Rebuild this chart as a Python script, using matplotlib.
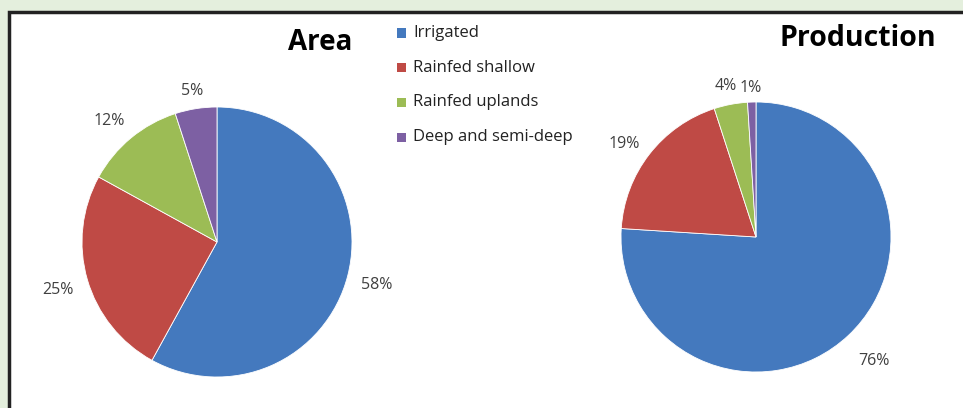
import numpy as np
import matplotlib
matplotlib.use("Agg")
import matplotlib.pyplot as plt
from matplotlib.patches import Rectangle

plt.rcParams['font.family'] = ['Open Sans', 'DejaVu Sans']

categories = ["Irrigated", "Rainfed shallow", "Rainfed uplands", "Deep and semi-deep"]
area_pct = [58, 25, 12, 5]
prod_pct = [76, 19, 4, 1]
colors = ["#4479BE", "#BF4A45", "#9CBC55", "#7D60A3"]

W, H = 963, 408
R_PX = 135
fig = plt.figure(figsize=(W / 100, H / 100), dpi=100)
fig.patch.set_facecolor("#e4efdd")
renderer = fig.canvas.get_renderer()

# white panel with dark frame (runs off right and bottom)
fig.patches.append(Rectangle((9 / W, -0.05), 1.1, (H - 12) / H + 0.05,
                             transform=fig.transFigure, facecolor="white",
                             edgecolor="#222222", linewidth=2.5, zorder=-5))


def px_axes(x0, y0, size):
    return fig.add_axes([x0 / W, (H - y0 - size) / H, size / W, size / H])


def draw_pie(ax, values, gaps):
    ax.pie(values, colors=colors, startangle=90, counterclock=False,
           wedgeprops=dict(edgecolor="white", linewidth=0.6))
    ax.set_xlim(-1, 1)
    ax.set_ylim(-1, 1)
    ax.set_aspect("equal")
    ax.axis("off")
    start = 90.0
    total = float(sum(values))
    for v, g in zip(values, gaps):
        mid = np.deg2rad(start - v / total * 180.0)
        start -= v / total * 360.0
        c, s = np.cos(mid), np.sin(mid)
        t = ax.annotate(f"{v}%", xy=(c, s), xytext=(0, 0),
                        textcoords="offset pixels", ha="center", va="center",
                        fontsize=11.5, color="#404040", annotation_clip=False)
        bb = t.get_window_extent(renderer)
        t.set_position((c * (g + bb.width / 2),
                        s * (g + bb.height / 2) - 4))


ax1 = px_axes(82, 107, 2 * R_PX)
draw_pie(ax1, area_pct, [14, 15, 19, 14])
ax2 = px_axes(621, 102, 2 * R_PX)
draw_pie(ax2, prod_pct, [22, 16, 15, 10])

fig.text(320 / W, 1 - 42 / H, "Area", fontsize=20, fontweight="bold",
         ha="center", va="center")
fig.text(858 / W, 1 - 38 / H, "Production", fontsize=20.5, fontweight="bold",
         ha="center", va="center")

# legend
for i, (c, name) in enumerate(zip(categories, colors)):
    y = 1 - (33 + i * 34.7) / H
    fig.patches.append(Rectangle((397 / W, y - 4.5 / H), 9 / W, 9 / H,
                                 transform=fig.transFigure, facecolor=name,
                                 edgecolor="none"))
    fig.text(413 / W, y, c, fontsize=12, ha="left", va="center",
             color="#222222")

fig.savefig("out.png", dpi=100, facecolor=fig.get_facecolor())
